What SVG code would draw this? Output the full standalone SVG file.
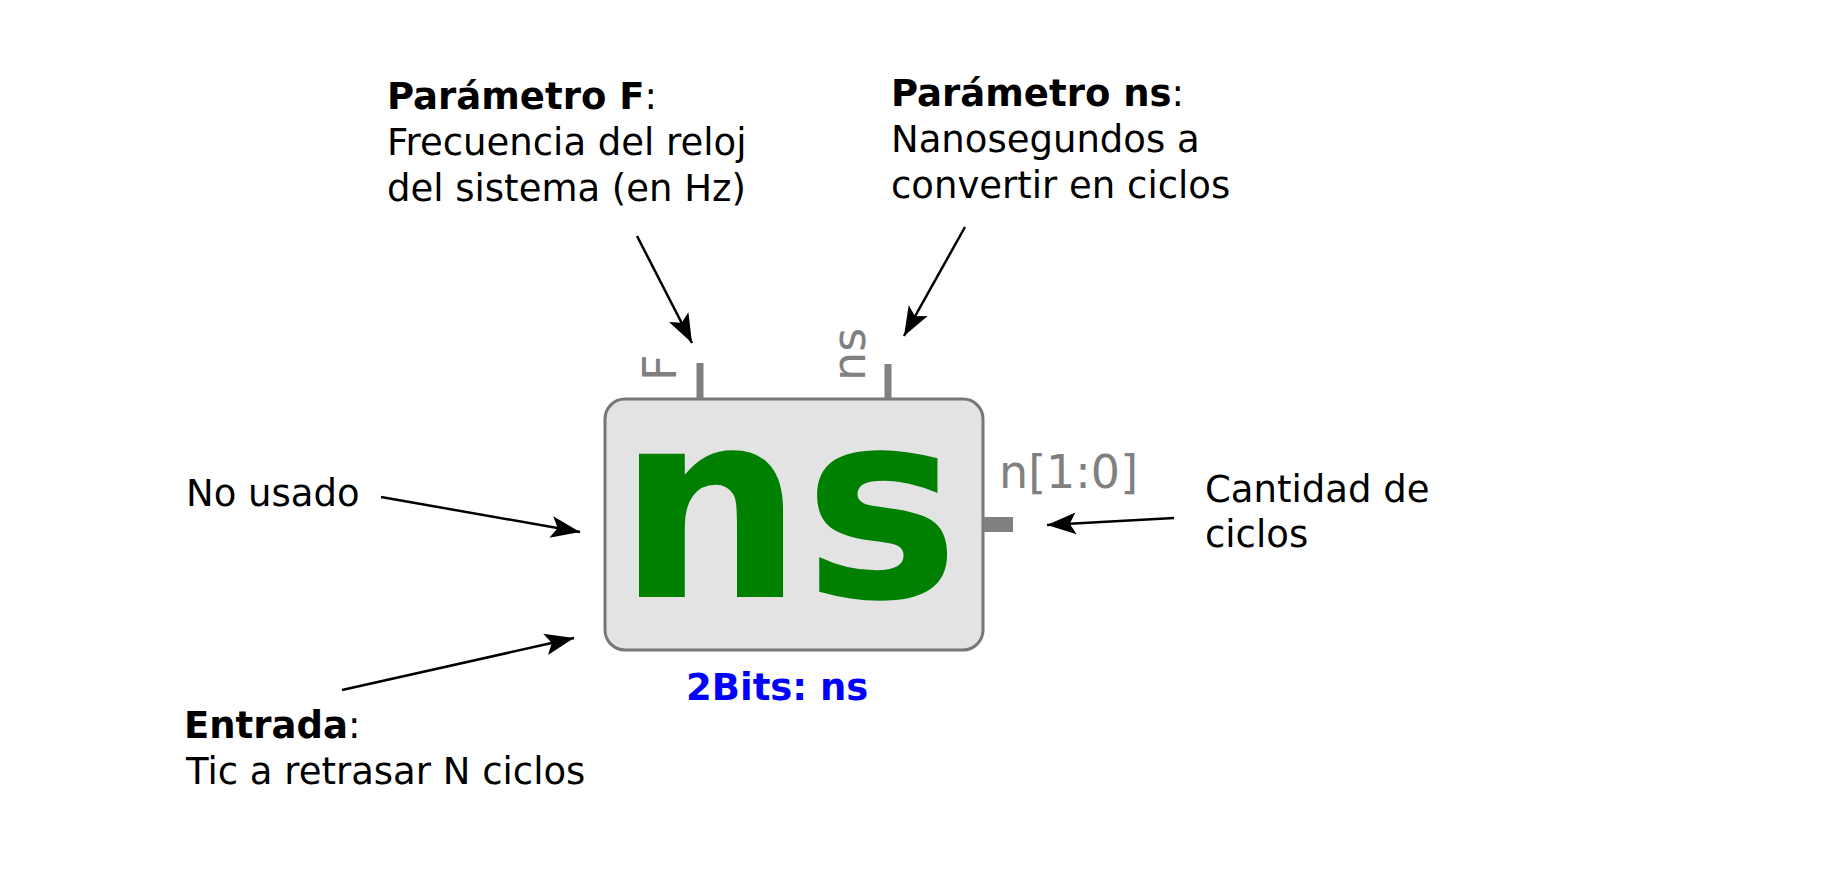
<svg xmlns="http://www.w3.org/2000/svg" width="1834" height="889" viewBox="0 0 1834 889">
<style>
text{font-family:"DejaVu Sans","Liberation Sans",sans-serif}
.lbl{font-size:37px;fill:#000}
.b{font-weight:bold}
.pinlbl{font-size:46px;fill:#808080}
.pin{fill:#808080}
.arr{stroke:#000;stroke-width:2.5;fill:none;marker-end:url(#ah)}
</style>
<defs>
<marker id="ah" markerUnits="userSpaceOnUse" orient="auto" refX="0" refY="0" markerWidth="40" markerHeight="40" viewBox="-20 -10 22 20" overflow="visible">
<path d="M0,0 L-16,-6 L-12.5,0 L-16,6 Z" fill="#000"/>
</marker>
</defs>
<rect width="1834" height="889" fill="#fff"/>
<g id="block">
<rect x="605" y="399" width="378" height="251" rx="20" ry="20" fill="#e3e3e3" stroke="#777" stroke-width="3"/>
<rect class="pin" x="696.5" y="363" width="7" height="36"/>
<rect class="pin" x="884.5" y="364" width="7" height="35"/>
<rect class="pin" x="983" y="517" width="30" height="15"/>
<text class="pinlbl" transform="translate(676,381) rotate(-90)">F</text>
<text class="pinlbl" transform="translate(865,381) rotate(-90)">ns</text>
<text class="pinlbl" x="999" y="488">n[1:0]</text>
<text x="617" y="597" font-size="262" font-weight="bold" fill="#008000">ns</text>
<text x="686" y="700" font-size="37" font-weight="bold" fill="#0000ff">2Bits: ns</text>
</g>
<g id="note-F">
<text class="lbl" x="387" y="109"><tspan class="b">Parámetro F</tspan>:</text>
<text class="lbl" x="387" y="155">Frecuencia del reloj</text>
<text class="lbl" x="387" y="201">del sistema (en Hz)</text>
</g>
<g id="note-ns">
<text class="lbl" x="891" y="106"><tspan class="b">Parámetro ns</tspan>:</text>
<text class="lbl" x="891" y="152">Nanosegundos a</text>
<text class="lbl" x="891" y="198">convertir en ciclos</text>
</g>
<g id="note-nousado">
<text class="lbl" x="186" y="506">No usado</text>
</g>
<g id="note-entrada">
<text class="lbl" x="184" y="738"><tspan class="b">Entrada</tspan>:</text>
<text class="lbl" x="186" y="784">Tic a retrasar N ciclos</text>
</g>
<g id="note-cantidad">
<text class="lbl" x="1205" y="502">Cantidad de</text>
<text class="lbl" x="1205" y="547">ciclos</text>
</g>
<g id="connectors">
<line class="arr" x1="637" y1="236" x2="692" y2="343"/>
<line class="arr" x1="965" y1="227" x2="904" y2="336"/>
<line class="arr" x1="381" y1="497" x2="580" y2="532"/>
<line class="arr" x1="342" y1="690" x2="574" y2="638"/>
<line class="arr" x1="1174" y1="518" x2="1047" y2="525"/>
</g>
</svg>
